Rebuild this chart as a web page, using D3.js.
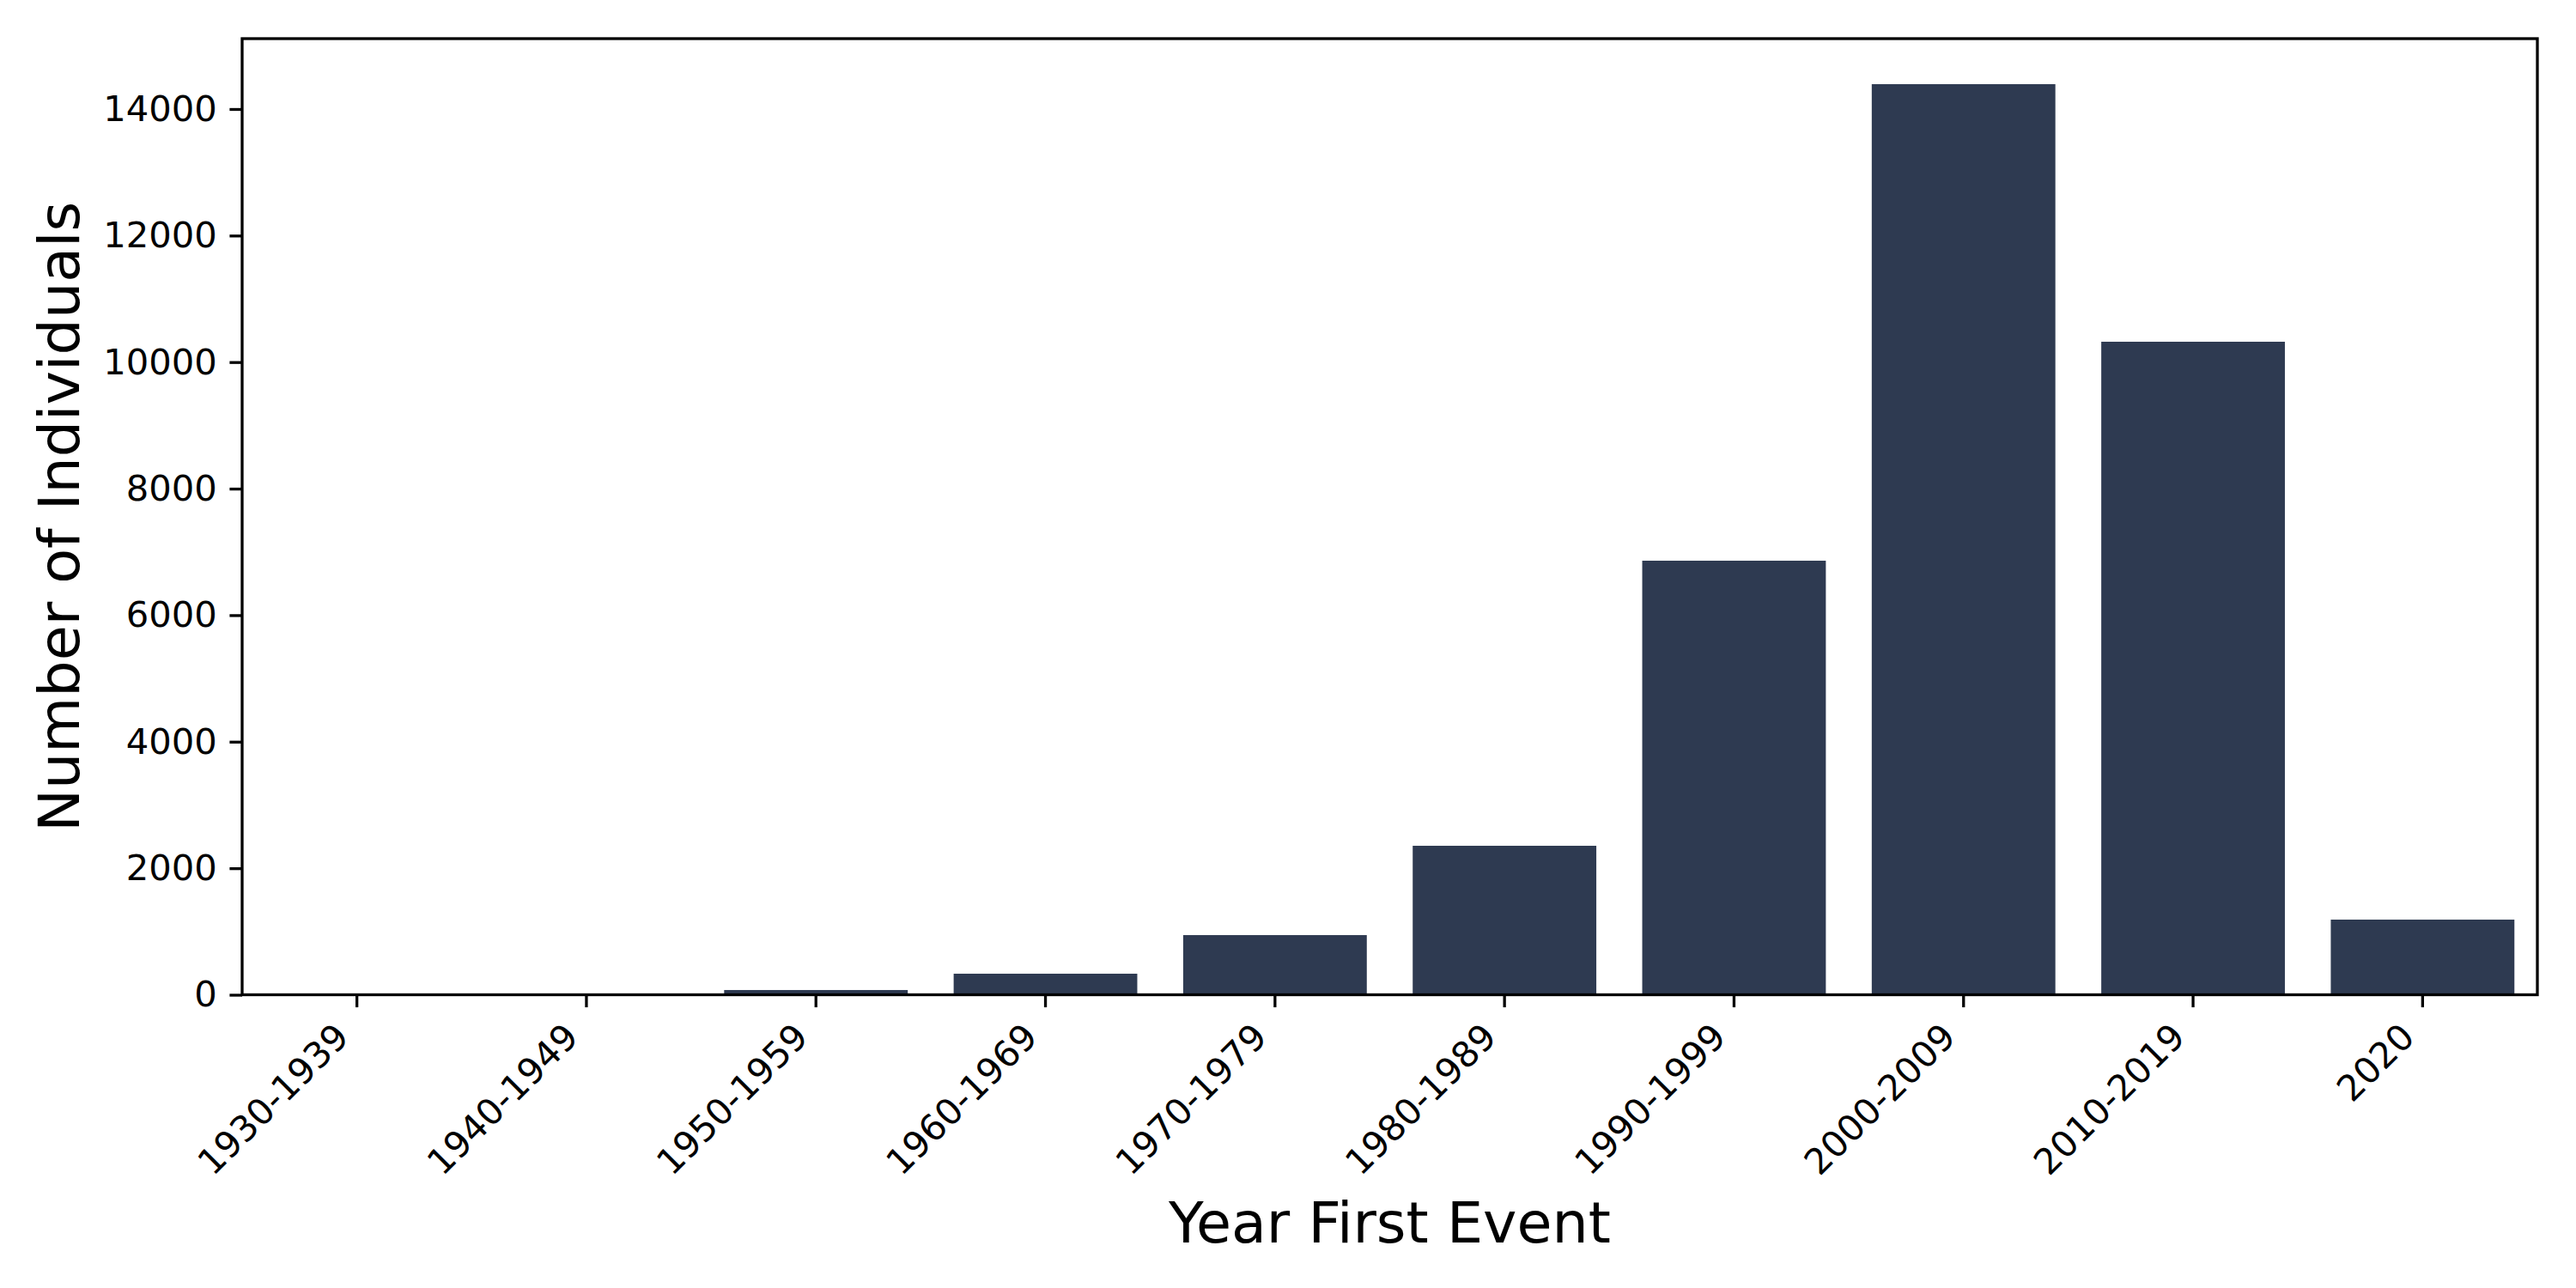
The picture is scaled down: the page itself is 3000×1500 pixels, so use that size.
<!DOCTYPE html>
<html>
<head>
<meta charset="utf-8">
<script src="https://cdn.jsdelivr.net/npm/d3@7"></script>
<style>
  body { margin: 0; background: #fff; }
  text { font-family: "DejaVu Sans", sans-serif; fill: #000; }
</style>
</head>
<body>
<svg id="chart"></svg>
<script>
// decades on the x axis
var decades = ["1930-1939", "1940-1949", "1950-1959", "1960-1969", "1970-1979",
  "1980-1989", "1990-1999", "2000-2009", "2010-2019", "2020"];
// individuals per decade
var counts = [2, 3, 75, 333, 943, 2355, 6861, 14393, 10322, 1188];
var yTicks = [0, 2000, 4000, 6000, 8000, 10000, 12000, 14000];
var xTitle = "Year First Event",
  yTitle = "Number of Individuals";

var width = 3000, height = 1500;
var margin = { top: 45, right: 45, bottom: 341.5, left: 282 };
var barColor = "#2e3a51";
var lw = 3.3, tickLen = 14.6, tickPad = 14.6;

var svg = d3.select("#chart")
  .attr("width", width)
  .attr("height", height);

svg.append("rect")
  .attr("width", width)
  .attr("height", height)
  .attr("fill", "#fff");

var plotW = width - margin.left - margin.right,
  plotH = height - margin.top - margin.bottom;

var g = svg.append("g")
  .attr("transform", "translate(" + margin.left + "," + margin.top + ")");

// band scale: bars take 0.8 of each slot, like seaborn
var x = d3.scaleBand()
  .domain(decades)
  .range([0, plotW])
  .paddingInner(0.2)
  .paddingOuter(0.1);

// matplotlib leaves 5% above the tallest bar
var y = d3.scaleLinear()
  .domain([0, d3.max(counts) * 1.05])
  .range([plotH, 0]);

// bars
g.selectAll("rect.bar")
  .data(counts)
  .enter().append("rect")
    .attr("class", "bar")
    .attr("x", function(d, i) { return x(decades[i]); })
    .attr("width", x.bandwidth())
    .attr("y", function(d) { return y(d); })
    .attr("height", function(d) { return plotH - y(d); })
    .attr("fill", barColor);

// y axis
var yAxis = g.append("g")
  .call(d3.axisLeft(y)
    .tickValues(yTicks)
    .tickFormat(d3.format("d"))
    .tickSize(tickLen)
    .tickSizeOuter(0)
    .tickPadding(tickPad));
yAxis.select(".domain").remove();
yAxis.selectAll("line").attr("stroke", "#000").attr("stroke-width", lw);
yAxis.selectAll("text")
  .style("font-size", "41.7px")
  .style("font-family", "'DejaVu Sans', sans-serif");

// x axis, labels turned 45 degrees and right aligned on the tick
var xAxis = g.append("g")
  .attr("transform", "translate(0," + plotH + ")")
  .call(d3.axisBottom(x)
    .tickSize(tickLen)
    .tickSizeOuter(0));
xAxis.select(".domain").remove();
xAxis.selectAll("line").attr("stroke", "#000").attr("stroke-width", lw);

var fs = 41.7, asc = 0.76 * fs, desc = 0.24 * fs, k = Math.SQRT1_2;
xAxis.selectAll("text")
  .style("font-size", fs + "px")
  .style("font-family", "'DejaVu Sans', sans-serif")
  .attr("text-anchor", "end")
  .attr("dy", null)
  .attr("y", null)
  .attr("transform", "translate(" + (-k * desc) + "," + (tickLen + tickPad + k * asc) + ") rotate(-45)");

// frame
g.append("rect")
  .attr("width", plotW)
  .attr("height", plotH)
  .attr("fill", "none")
  .attr("stroke", "#000")
  .attr("stroke-width", lw);

// axis titles
svg.append("text")
  .attr("x", margin.left + plotW / 2)
  .attr("y", 1447)
  .attr("text-anchor", "middle")
  .style("font-size", "66.7px")
  .text(xTitle);

svg.append("text")
  .attr("transform", "translate(92," + (margin.top + plotH / 2) + ") rotate(-90)")
  .attr("text-anchor", "middle")
  .style("font-size", "66.7px")
  .text(yTitle);
</script>
</body>
</html>
